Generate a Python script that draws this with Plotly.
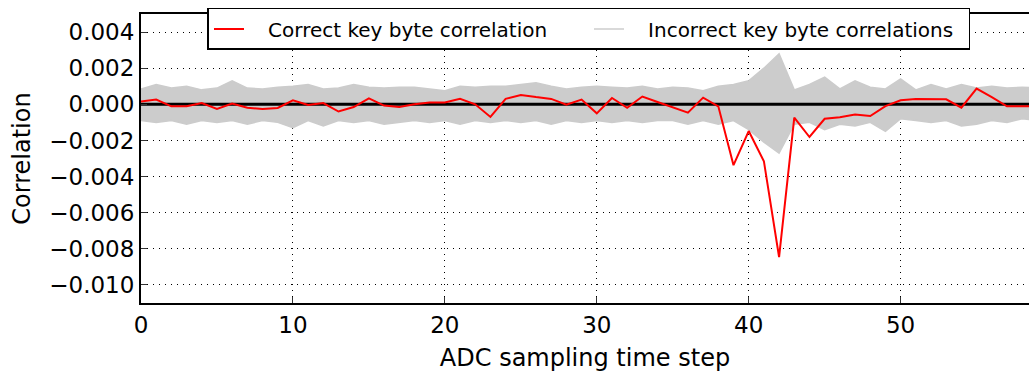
import plotly.graph_objects as go

steps = list(range(60))

correct = [0.00015, 0.00026, -0.00011, -0.00011, 0.00007, -0.00026, 0.00004, -0.00019, -0.00026, -0.00020,
           0.00022, -0.00004, 0.00007, -0.00040, -0.00015, 0.00033, -0.00007, -0.00015, 0.00000, 0.00010,
           0.00010, 0.00030, 0.00000, -0.00070, 0.00030, 0.00052, 0.00040, 0.00030, -0.00002, 0.00026,
           -0.00050, 0.00035, -0.00019, 0.00043, 0.00013, -0.00017, -0.00046, 0.00037, -0.00011, -0.00337,
           -0.00148, -0.00315, -0.00846, -0.00074, -0.00181, -0.00080, -0.00072, -0.00057, -0.00065, -0.00010,
           0.00022, 0.00030, 0.00030, 0.00028, -0.00019, 0.00087, 0.00040, -0.00011, -0.00011, -0.00010]

incorrect_upper = [0.00085, 0.0011, 0.0009, 0.0010, 0.0008, 0.0009, 0.0013, 0.0009, 0.00085, 0.00095,
                   0.0010, 0.0011, 0.00085, 0.0009, 0.0011, 0.00095, 0.0009, 0.00095, 0.00095, 0.00085,
                   0.00075, 0.0010, 0.00095, 0.0010, 0.00100, 0.0011, 0.0012, 0.0010, 0.00085, 0.00095,
                   0.0010, 0.00095, 0.0009, 0.0010, 0.00085, 0.00095, 0.0009, 0.00075, 0.0010, 0.0011,
                   0.0013, 0.0020, 0.0028, 0.0008, 0.0011, 0.0015, 0.00085, 0.0013, 0.00095, 0.00085,
                   0.0014, 0.0008, 0.0011, 0.00085, 0.0011, 0.0009, 0.0010, 0.0009, 0.00095, 0.0009]

incorrect_lower = [-0.0009, -0.0010, -0.0009, -0.0011, -0.0009, -0.0010, -0.0009, -0.0011, -0.0009, -0.0010,
                   -0.0013, -0.0009, -0.0012, -0.0009, -0.0010, -0.0009, -0.0011, -0.0010, -0.0009, -0.0010,
                   -0.0009, -0.0011, -0.0009, -0.0010, -0.0009, -0.0010, -0.0009, -0.0011, -0.0009, -0.0010,
                   -0.0009, -0.0010, -0.0009, -0.0010, -0.0009, -0.0009, -0.0011, -0.0009, -0.0011, -0.0009,
                   -0.0014, -0.0021, -0.0027, -0.0011, -0.0010, -0.0014, -0.0011, -0.0012, -0.0010, -0.0015,
                   -0.0008, -0.0009, -0.0010, -0.0009, -0.0012, -0.0011, -0.0009, -0.0010, -0.0008, -0.0009]

y_ticks = [0.004, 0.002, 0.0, -0.002, -0.004, -0.006, -0.008, -0.010]
x_ticks = [0, 10, 20, 30, 40, 50]

GRAY = "#cccccc"
NB = "\u00a0\u00a0\u00a0"

fig = go.Figure()
fig.add_trace(go.Scatter(x=steps, y=incorrect_lower, mode="lines", line=dict(color=GRAY, width=1.5),
                         name=NB + "Incorrect key byte correlations", hoverinfo="skip"))
fig.add_trace(go.Scatter(x=steps, y=incorrect_upper, mode="lines", line=dict(color=GRAY, width=1.5),
                         fill="tonexty", fillcolor=GRAY, showlegend=False, hoverinfo="skip"))
fig.add_trace(go.Scatter(x=[steps[0], steps[-1]], y=[0, 0], mode="lines", line=dict(color="black", width=3),
                         showlegend=False, hoverinfo="skip"))
fig.add_trace(go.Scatter(x=steps, y=correct, mode="lines", line=dict(color="#ff0000", width=2),
                         name=NB + "Correct key byte correlation"))

font = "DejaVu Sans"
fig.update_layout(
    width=1029, height=372,
    margin=dict(l=141, r=0, t=14, b=69),
    paper_bgcolor="white", plot_bgcolor="white",
    font=dict(family=font, size=23, color="black"),
    legend=dict(orientation="h", x=0.5045, xanchor="center", y=1.0208, yanchor="top",
                bordercolor="black", borderwidth=1.5, bgcolor="white",
                font=dict(size=20), traceorder="reversed", entrywidth=335),
    xaxis=dict(range=[0, 58.45], tickvals=x_ticks, ticks="inside", ticklen=6, tickcolor="#333",
               showgrid=True, gridcolor="black", griddash="1px,5px", gridwidth=1.2,
               showline=True, linecolor="black", linewidth=2, mirror="allticks", zeroline=False,
               title=dict(text="ADC sampling time step", font=dict(size=24), standoff=14)),
    yaxis=dict(range=[-0.011, 0.005], tickvals=y_ticks, tickformat=".3f", ticks="inside", ticklen=6,
               tickcolor="#333", showgrid=True, gridcolor="black", griddash="1px,5px", gridwidth=1.2,
               showline=True, linecolor="black", linewidth=2, mirror=False, zeroline=False,
               title=dict(text="Correlation", font=dict(size=24), standoff=12)),
)

fig.write_html("out.html")
